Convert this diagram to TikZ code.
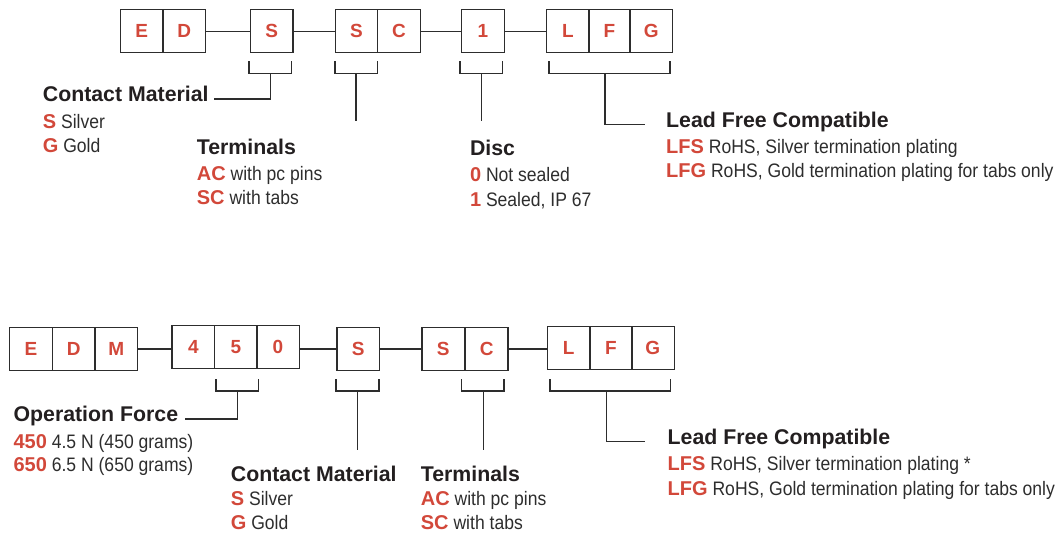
\documentclass[tikz,border=0pt]{standalone}
\usepackage{fontspec}
\setmainfont{Liberation Sans}
\newfontfamily\condfont{Liberation Sans}[FakeStretch=0.9]
\definecolor{codered}{RGB}{210,72,58}
\definecolor{inkgray}{RGB}{45,45,45}
\definecolor{hdblack}{RGB}{35,31,32}
\newcommand{\hdfont}{\bfseries\fontsize{21.3}{25}\selectfont}
\newcommand{\txfont}{\condfont\fontsize{19.5}{23}\selectfont}
\newcommand{\cd}[2]{{\color{codered}\normalfont\bfseries\fontsize{20}{24}\selectfont #1} #2}
\begin{document}
\begin{tikzpicture}[x=1pt, y=-1pt,
  codebox/.style={draw=inkgray, line width=1.2pt, minimum width=42.6pt, minimum height=43pt, inner sep=0pt, font=\bfseries\fontsize{19}{22}\selectfont, text=codered},
  hdr/.style={anchor=base west, inner sep=0pt, font=\hdfont, text=hdblack},
  codeline/.style={anchor=base west, inner sep=0pt, font=\txfont, text=inkgray},
  wire/.style={draw=inkgray, line width=1.2pt}]
\useasboundingbox (0,0) rectangle (1062,533);
\foreach \x/\l [count=\i] in {141.7/E, 184.2/D, 271.7/S, 356.5/S, 399/C, 482.8/1, 568/L, 609.5/F, 651.3/G}
  \node[codebox] (t\i) at (\x,31.3) {\l};
\draw[wire] (t2) -- (t3);
\draw[wire] (t3) -- (t4);
\draw[wire] (t5) -- (t6);
\draw[wire] (t6) -- (t7);
\foreach \l/\r/\m/\n in {249/291.7/270.5/tS, 335/377.3/356/tSC, 460/502.7/481.5/tD, 549/670/605/tL}{
  \draw[wire] (\l,61) -- (\l,73.5) -- (\r,73.5) -- (\r,61);
  \coordinate (\n) at (\m,73.5);
}
\coordinate (tSCend) at (356,121);
\coordinate (tDend) at (481.5,121);
\node[hdr] (cm1) at (42.7,101.7) {Contact Material};
\node[codeline] (cm1s) at (42.7,128.3) {\cd{S}{Silver}};
\node[codeline] (cm1g) at (42.7,152.7) {\cd{G}{Gold}};
\node[hdr] (te1) at (196.7,154) {Terminals};
\node[codeline] (te1a) at (196.7,180) {\cd{AC}{with pc pins}};
\node[codeline] (te1s) at (196.7,204) {\cd{SC}{with tabs}};
\node[hdr] (di1) at (469.8,155) {Disc};
\node[codeline] (di1o) at (469.8,181.7) {\cd{0}{Not sealed}};
\node[codeline] (di1i) at (469.8,206) {\cd{1}{Sealed, IP 67}};
\node[hdr] (lf1) at (666,127.3) {Lead Free Compatible};
\node[codeline] (lf1s) at (666,153.3) {\cd{LFS}{RoHS, Silver termination plating}};
\node[codeline] (lf1g) at (666,177.3) {\cd{LFG}{RoHS, Gold termination plating for tabs only}};
\draw[wire] (tS) |- ([xshift=5pt]cm1.mid east);
\draw[wire] (tSC) -- (tSCend);
\draw[wire] (tD) -- (tDend);
\draw[wire] (tL) |- ([xshift=-21.5pt]lf1.mid west);
\foreach \x/\h/\l [count=\i] in {31/349/E, 73.8/349/D, 116.3/349/M, 193.3/346.8/4, 235.8/346.8/5, 277.8/346.8/0, 358.3/349/S, 443.3/349/S, 486.7/349/C, 568.7/348.3/L, 610.8/348.3/F, 652.8/348.3/G}
  \node[codebox] (b\i) at (\x,\h) {\l};
\draw[wire] (b3.east) -- (b3.east -| b4.west);
\draw[wire] (b7.west -| b6.east) -- (b7.west);
\draw[wire] (b7) -- (b8);
\draw[wire] (b9.east) -- (b9.east -| b10.west);
\foreach \l/\r/\m/\n in {216/258.3/237.3/kF, 336/379/357.7/kS, 461.7/504/483.3/kC, 550/670.7/606.7/kL}{
  \draw[wire] (\l,379.3) -- (\l,391) -- (\r,391) -- (\r,379.3);
  \coordinate (\n) at (\m,391);
}
\coordinate (kSend) at (357.7,450);
\coordinate (kCend) at (483.3,450);
\node[hdr] (of2) at (13.4,421.7) {Operation Force};
\node[codeline] (of2a) at (13.4,448.3) {\cd{450}{4.5 N (450 grams)}};
\node[codeline] (of2b) at (13.4,471.7) {\cd{650}{6.5 N (650 grams)}};
\node[hdr] (cm2) at (230.7,481) {Contact Material};
\node[codeline] (cm2s) at (230.7,505.5) {\cd{S}{Silver}};
\node[codeline] (cm2g) at (230.7,529.5) {\cd{G}{Gold}};
\node[hdr] (te2) at (420.7,481) {Terminals};
\node[codeline] (te2a) at (420.7,505.5) {\cd{AC}{with pc pins}};
\node[codeline] (te2s) at (420.7,529.5) {\cd{SC}{with tabs}};
\node[hdr] (lf2) at (667.5,444.3) {Lead Free Compatible};
\node[codeline] (lf2s) at (667.5,470.7) {\cd{LFS}{RoHS, Silver termination plating *}};
\node[codeline] (lf2g) at (667.5,495) {\cd{LFG}{RoHS, Gold termination plating for tabs only}};
\draw[wire] (kF) |- ([xshift=6.5pt]of2.mid east);
\draw[wire] (kS) -- (kSend);
\draw[wire] (kC) -- (kCend);
\draw[wire] (kL) |- ([xshift=-22.5pt]lf2.mid west);
\end{tikzpicture}
\end{document}
